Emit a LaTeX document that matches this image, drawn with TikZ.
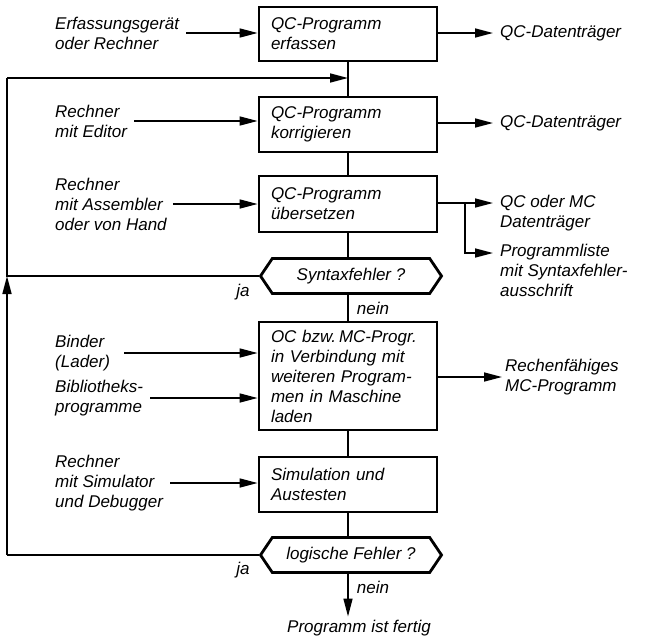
\documentclass[tikz,border=0pt]{standalone}
\usepackage{fontspec}
\setmainfont{Liberation Sans}
\usepackage{tikz}
\usetikzlibrary{shapes.symbols,arrows.meta,positioning}

\begin{document}
\begin{tikzpicture}[x=1pt,y=-1pt,
    font=\fontsize{17}{20}\selectfont\itshape,
    stepbox/.style={draw,line width=2.8pt,minimum width=178pt,text width=154pt,
      inner xsep=12pt,align=left},
    query/.style={draw,line width=2.8pt,shape=signal,signal to=west and east,
      signal pointer angle=112,minimum width=181pt,minimum height=35pt,inner xsep=4pt},
    txt/.style={align=left,inner sep=0pt},
    ln/.style={line width=1.6pt},
    arr/.style={line width=1.6pt,-{Triangle[length=18pt,width=9pt]}}]
    \useasboundingbox (0,0) rectangle (647,643);

    % Main column
    \node[stepbox,minimum height=54pt] (erf)  at (348,34)    {QC-Programm\\erfassen};
    \node[stepbox,minimum height=55pt] (korr) at (348,124.5) {QC-Programm\\korrigieren};
    \node[stepbox,minimum height=56pt] (ueb)  at (348,204)   {QC-Programm\\übersetzen};
    \node[query]                       (syn)  at (351,276)   {Syntaxfehler ?};
    \node[stepbox,minimum height=108pt](lad)  at (348,376)
      {\mbox{OC bzw.\,MC-Progr.}\\in Verbindung mit\\weiteren Program-\\men in Maschine\\laden};
    \node[stepbox,minimum height=55pt] (sim)  at (348,484.5) {Simulation und\\Austesten};
    \node[query]                       (logf) at (351,555)   {logische Fehler ?};
    \node (fertig) at (359,628) {Programm ist fertig};

    \draw[ln] (erf.south) -- (korr.north);
    \draw[ln] (korr.south) -- (ueb.north);
    \draw[ln] (ueb.south) -- (ueb.south |- syn.north);
    \draw[ln] (ueb.south |- syn.south) -- (lad.north);
    \draw[ln] (lad.south) -- (sim.north);
    \draw[ln] (sim.south) -- (sim.south |- logf.north);
    \draw[arr] (sim.south |- logf.south) -- (sim.south |- fertig.north);

    \node (nein1) at (373,308) {nein};
    \node (nein2) at (373,587) {nein};
    \node (ja1) at (243,292) {ja};
    \node (ja2) at (243,570) {ja};

    % Back loop
    \coordinate (fb) at (7,78);
    \draw[ln] (logf.west) -- (logf.west -| fb);
    \draw[arr] (logf.west -| fb) -- (syn.west -| fb);
    \draw[ln] (syn.west) -- (syn.west -| fb) -- (fb);
    \draw[arr] (fb) -- (erf.south |- fb);

    % Inputs
    \node[txt,anchor=west] (in1) at (55,33)  {Erfassungsgerät\\oder Rechner};
    \node[txt,anchor=west] (in2) at (55,121) {Rechner\\mit Editor};
    \node[txt,anchor=west] (in3) at (55,204) {Rechner\\mit Assembler\\oder von Hand};
    \node[txt,anchor=west] (in4) at (55,353) {Binder\\(Lader)};
    \node[txt,anchor=west] (in5) at (55,398) {Bibliotheks-\\programme};
    \node[txt,anchor=west] (in6) at (55,483) {Rechner\\mit Simulator\\und Debugger};
    \draw[arr] ([xshift=7pt]in1.east) -- (erf.west |- in1.east);
    \draw[arr] ([xshift=7pt]in2.east) -- (korr.west |- in2.east);
    \draw[arr] ([xshift=6pt]in3.east) -- (ueb.west |- in3.east);
    \draw[arr] ([xshift=14pt]in4.east) -- (lad.west |- in4.east);
    \draw[arr] ([xshift=7pt]in5.east) -- (lad.west |- in5.east);
    \draw[arr] ([xshift=7pt]in6.east) -- (sim.west |- in6.east);

    % Outputs
    \node[txt,anchor=west] (out1) at (500,33)  {QC-Datenträger};
    \node[txt,anchor=west] (out2) at (500,123) {QC-Datenträger};
    \node[txt,anchor=north west] (out3) at (500,195) {QC oder MC\\Datenträger};
    \node[txt,anchor=north west] (out4) at (500,244) {Programmliste\\mit Syntaxfehler-\\ausschrift};
    \node[txt,anchor=west] (out5) at (505,377) {Rechenfähiges\\MC-Programm};
    \coordinate (split) at (465,203);
    \coordinate (split2) at (465,253);
    \draw[arr] (erf.east |- out1.west) -- ([xshift=-7pt]out1.west);
    \draw[arr] (korr.east |- out2.west) -- ([xshift=-7pt]out2.west);
    \draw[ln] (ueb.east |- split) -- (split);
    \draw[arr] (split) -- ([xshift=-7pt]out3.west |- split);
    \draw[arr] (split) |- ([xshift=-7pt]out4.west |- split2);
    \draw[arr] (lad.east |- out5.west) -- ([xshift=-3pt]out5.west);
  \end{tikzpicture}
\end{document}
